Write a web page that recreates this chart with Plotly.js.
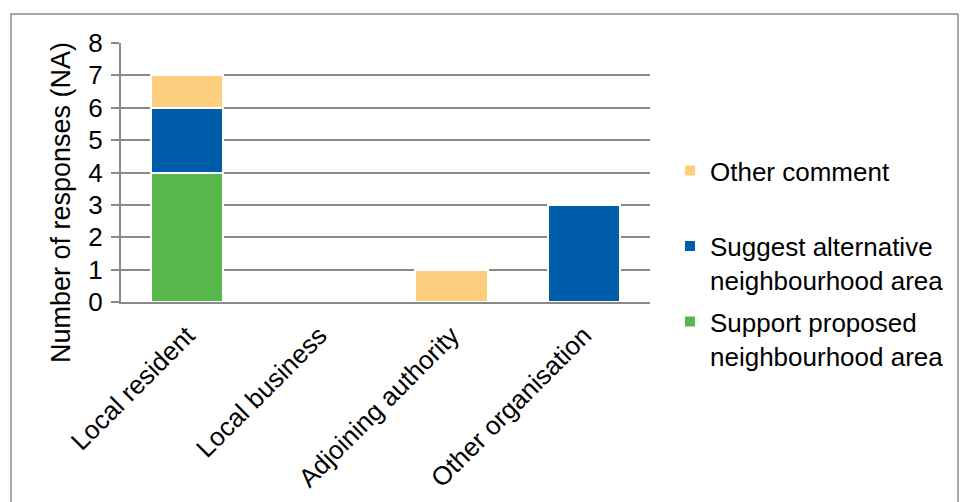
<!DOCTYPE html>
<html>
<head>
<meta charset="utf-8">
<script src="https://cdn.plot.ly/plotly-3.0.1.min.js"></script>
<style>
html,body{margin:0;padding:0;background:#fff;}
#chart{width:962px;height:502px;}
</style>
</head>
<body>
<div id="chart"></div>
<script>
const categories = ["Local resident", "Local business", "Adjoining authority", "Other organisation"];
const supportProposed = [4, 0, 0, 0];
const suggestAlternative = [2, 0, 0, 3];
const otherComment = [1, 0, 1, 0];
const seriesNames = ["Support proposed<br>neighbourhood area", "Suggest alternative<br>neighbourhood area", "Other comment<br>\u00a0"];
const yTicks = [0, 1, 2, 3, 4, 5, 6, 7, 8];
const yTitle = "Number of responses (NA)";

const colors = ["#58B84C", "#005DAA", "#FECE7F"];
const font = {family: "Liberation Sans, Arial, sans-serif", size: 26, color: "#000"};

const series = [supportProposed, suggestAlternative, otherComment];
const traces = series.map((vals, i) => ({
  type: "bar",
  name: seriesNames[i],
  x: categories,
  y: vals,
  legendgroup: "g" + i,
  legendrank: 1000 - i,
  marker: {color: colors[i], line: {color: "#ffffff", width: 2}},
  hoverinfo: "x+y"
}));

const L = 121, R = 650, T = 43, B = 302;
const pw = R - L, ph = B - T;
const px = v => (v - L) / pw;
const py = v => (B - v) / ph;

const layout = {
  width: 962, height: 502,
  margin: {l: L, r: 962 - R, t: T, b: 502 - B, pad: 0},
  paper_bgcolor: "#fff",
  plot_bgcolor: "#fff",
  barmode: "stack",
  bargap: 0.45,
  font: font,
  showlegend: true,
  legend: {
    x: px(670), y: py(147), xanchor: "left", yanchor: "top",
    traceorder: "grouped",
    tracegroupgap: 5,
    valign: "top",
    font: font,
    bgcolor: "rgba(0,0,0,0)"
  },
  xaxis: {
    type: "category",
    tickangle: -45,
    showline: true, linecolor: "#898989", linewidth: 2,
    showgrid: false, ticks: "",
    ticklabelstandoff: 6,
    tickfont: font
  },
  yaxis: {
    range: [0, 8],
    tickvals: yTicks,
    showline: true, linecolor: "#898989", linewidth: 2,
    showgrid: true, gridcolor: "#898989", gridwidth: 2,
    ticks: "outside", ticklen: 8, tickcolor: "#898989", tickwidth: 2,
    ticklabelstandoff: 3,
    tickfont: font,
    zeroline: false
  },
  annotations: [{
    text: yTitle,
    xref: "paper", yref: "paper",
    x: px(61), y: py(203),
    xanchor: "center", yanchor: "middle",
    textangle: -90,
    showarrow: false,
    font: Object.assign({}, font, {size: 27})
  }],
  shapes: [{
    type: "rect", xref: "paper", yref: "paper",
    x0: px(11), x1: px(958), y0: py(520), y1: py(14),
    line: {color: "#8c8c8c", width: 1.5},
    fillcolor: "rgba(0,0,0,0)",
    layer: "below"
  }]
};

Plotly.newPlot("chart", traces, layout, {displayModeBar: false, staticPlot: true});
</script>
</body>
</html>
